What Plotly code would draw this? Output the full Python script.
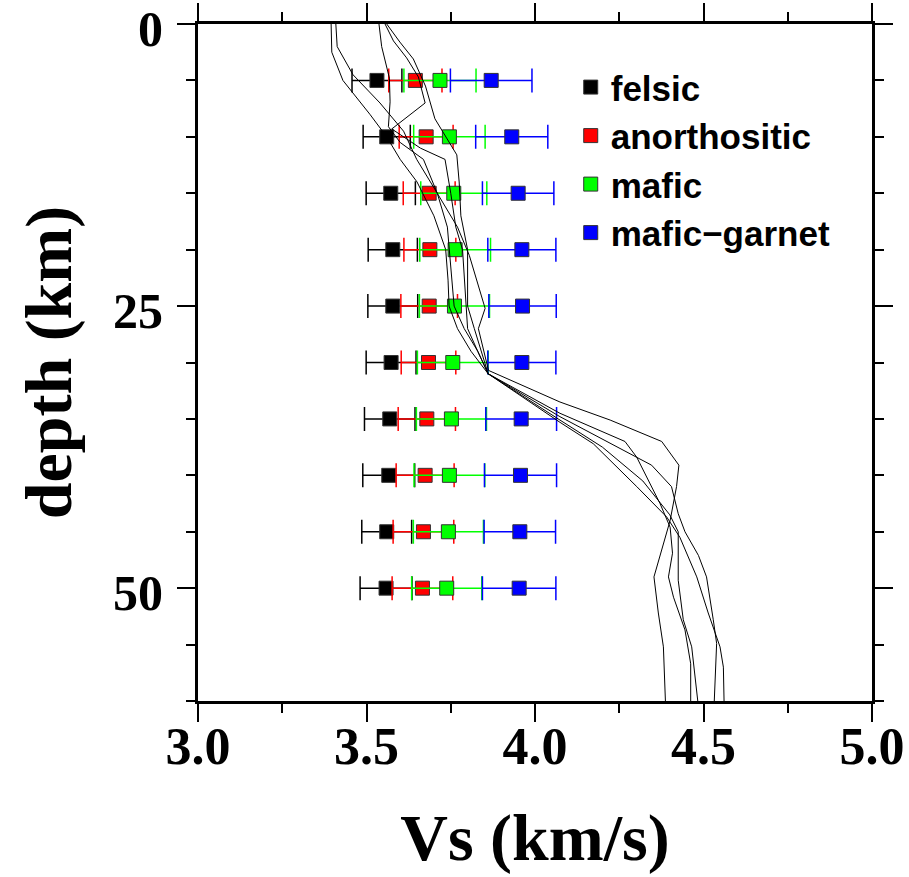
import plotly.graph_objects as go

# ---------------- data ----------------
depths = [5, 10, 15, 20, 25, 30, 35, 40, 45, 50]

felsic_vs = [3.531, 3.560, 3.572, 3.578, 3.578, 3.573, 3.569, 3.566, 3.560, 3.558]
felsic_err = [0.074, 0.070, 0.073, 0.073, 0.074, 0.074, 0.075, 0.077, 0.074, 0.077]

anor_vs = [3.645, 3.677, 3.686, 3.688, 3.686, 3.684, 3.679, 3.674, 3.669, 3.666]
anor_err = [0.079, 0.080, 0.077, 0.077, 0.084, 0.081, 0.085, 0.086, 0.090, 0.090]

mafic_vs = [3.718, 3.746, 3.759, 3.763, 3.761, 3.756, 3.752, 3.746, 3.743, 3.738]
mafic_err = [0.107, 0.106, 0.098, 0.105, 0.104, 0.105, 0.104, 0.105, 0.104, 0.104]

garnet_vs = [3.870, 3.931, 3.950, 3.961, 3.963, 3.961, 3.959, 3.957, 3.955, 3.953]
garnet_err = [0.121, 0.107, 0.106, 0.101, 0.100, 0.101, 0.105, 0.107, 0.106, 0.109]

# velocity profiles (depth km, Vs km/s)
prof1_depth = [0, 2.5, 5, 8, 10, 12, 14, 17, 20, 22.7, 25, 27, 29, 31, 34.5, 37, 38.4, 42.5, 44.6, 46.9, 49, 50.8, 53.7, 56.7, 60]
prof1_vs = [3.395, 3.397, 3.43, 3.51, 3.56, 3.60, 3.65, 3.70, 3.735, 3.742, 3.745, 3.77, 3.81, 3.861, 4.074, 4.267, 4.302, 4.371, 4.401, 4.408, 4.396, 4.411, 4.445, 4.462, 4.462]

prof2_depth = [0, 2, 4.5, 7, 9.5, 12, 15, 18, 20.5, 22.7, 25.2, 27, 30.7, 33.5, 35.1, 37, 39.1, 41, 44, 49, 52.2, 55.2, 60]
prof2_vs = [3.409, 3.413, 3.46, 3.54, 3.61, 3.649, 3.71, 3.77, 3.805, 3.826, 3.852, 3.832, 3.862, 4.074, 4.223, 4.376, 4.427, 4.420, 4.401, 4.353, 4.366, 4.381, 4.387]

prof3_depth = [0, 2, 4.8, 6.9, 9.1, 10.5, 12, 15, 18, 22.7, 25, 27, 29, 31, 34.8, 39.1, 41, 43.4, 45, 47.1, 49, 52.8, 54.9, 60]
prof3_vs = [3.537, 3.545, 3.568, 3.570, 3.565, 3.60, 3.669, 3.71, 3.74, 3.754, 3.76, 3.79, 3.83, 3.861, 4.074, 4.346, 4.405, 4.425, 4.445, 4.485, 4.509, 4.529, 4.539, 4.532]

prof4_depth = [0, 1.5, 3, 4.7, 7, 9.3, 11, 12, 15, 18, 20, 22.7, 25, 27, 29, 31, 35.1, 37.5, 40.5, 43.5, 45, 49.3, 52.8, 55.2, 60]
prof4_vs = [3.555, 3.58, 3.619, 3.654, 3.674, 3.575, 3.66, 3.733, 3.75, 3.765, 3.785, 3.791, 3.795, 3.80, 3.83, 3.861, 4.074, 4.20, 4.32, 4.40, 4.425, 4.425, 4.440, 4.465, 4.483]

prof5_depth = [0, 1.6, 3.1, 5.5, 8.4, 11.6, 14, 17, 20, 22.7, 25, 27, 29, 31, 35.3, 37.2, 41, 43.7, 45.5, 49, 52.2, 55.2, 57, 60]
prof5_vs = [3.560, 3.599, 3.639, 3.675, 3.703, 3.768, 3.775, 3.78, 3.80, 3.80, 3.80, 3.82, 3.84, 3.861, 4.074, 4.173, 4.302, 4.391, 4.43, 4.480, 4.514, 4.549, 4.559, 4.561]

x_ticks = [3.0, 3.5, 4.0, 4.5, 5.0]
y_ticks = [0, 25, 50]

# ---------------- figure ----------------
fig = go.Figure()

series = [
    ("felsic", felsic_vs, felsic_err, "#000000"),
    ("anorthositic", anor_vs, anor_err, "#ff0000"),
    ("mafic", mafic_vs, mafic_err, "#00ff00"),
    ("mafic\u2212garnet", garnet_vs, garnet_err, "#0000ff"),
]
for name, vs, err, col in series:
    fig.add_trace(go.Scatter(
        x=vs, y=depths, mode="markers", name=name,
        marker=dict(symbol="square", size=14, color=col,
                    line=dict(color="#333333", width=1)),
        error_x=dict(type="data", array=err, visible=True, color=col,
                     thickness=1.5, width=12),
    ))

for d, v in [(prof1_depth, prof1_vs), (prof2_depth, prof2_vs), (prof3_depth, prof3_vs),
             (prof4_depth, prof4_vs), (prof5_depth, prof5_vs)]:
    fig.add_trace(go.Scatter(x=v, y=d, mode="lines", showlegend=False,
                             line=dict(color="black", width=1), hoverinfo="skip"))

tickfont = dict(family="Liberation Serif", size=52, color="black", weight="bold")
ytickfont = dict(family="Liberation Serif", size=50, color="black", weight="bold")
titlefont = dict(family="Liberation Serif", size=66, color="black", weight="bold")

fig.update_layout(
    width=909, height=877,
    margin=dict(l=198, r=37, t=24, b=176),
    plot_bgcolor="white", paper_bgcolor="white",
    showlegend=True,
    legend=dict(x=0.553, y=0.95, xanchor="left", yanchor="top",
                bgcolor="rgba(0,0,0,0)",
                font=dict(family="Liberation Sans", size=35, color="black", weight="bold"),
                tracegroupgap=0),
    xaxis=dict(
        range=[3.0, 5.0], tickvals=x_ticks, ticktext=[f"{t:.1f}" for t in x_ticks],
        showgrid=False, zeroline=False, automargin=False,
        showline=True, linewidth=3, linecolor="black", mirror="ticks",
        ticks="outside", ticklen=18, tickwidth=2, tickcolor="black",
        minor=dict(dtick=0.25, tick0=3.0, ticks="outside", ticklen=9, tickwidth=2,
                   tickcolor="black", showgrid=False),
        tickfont=tickfont, ticklabelstandoff=-20, ticklabeloverflow="allow",
        title=dict(text="Vs (km/s)", font=titlefont, standoff=40),
    ),
    yaxis=dict(
        range=[60, 0], tickvals=y_ticks, ticktext=[str(t) for t in y_ticks],
        showgrid=False, zeroline=False, automargin=False,
        showline=True, linewidth=3, linecolor="black", mirror="ticks",
        ticks="outside", ticklen=18, tickwidth=2, tickcolor="black",
        minor=dict(dtick=5, tick0=0, ticks="outside", ticklen=9, tickwidth=2,
                   tickcolor="black", showgrid=False),
        tickfont=ytickfont, ticklabelstandoff=4, ticklabelshift=-4,
        ticklabeloverflow="allow",
        title=dict(text="depth (km)", font=titlefont, standoff=20),
    ),
)

fig.write_html("out.html")
